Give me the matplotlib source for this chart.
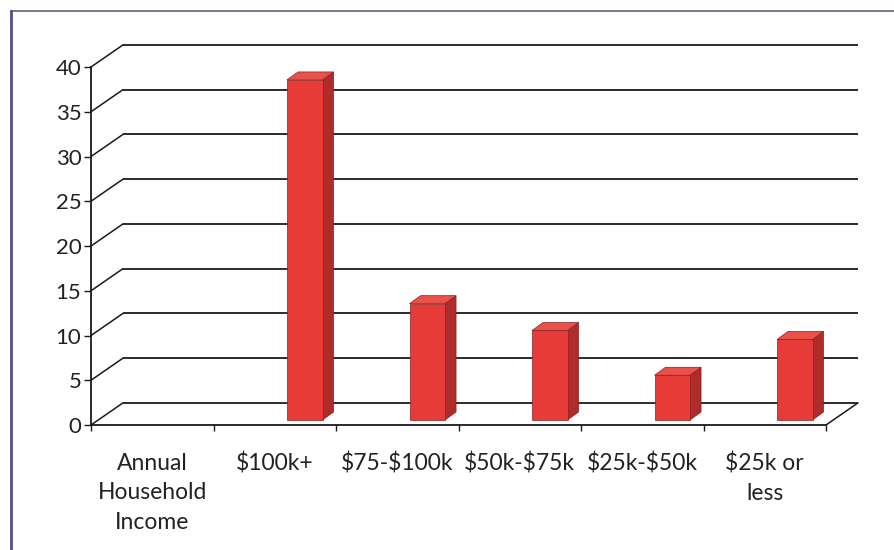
import matplotlib
matplotlib.use("Agg")
import matplotlib.pyplot as plt
from matplotlib.patches import Polygon
from matplotlib.lines import Line2D
import numpy as np

plt.rcParams['font.family'] = ['Lato', 'DejaVu Sans']
plt.rcParams['text.parse_math'] = False

# Survey shares by annual household income bracket (%)
categories = ["Annual\nHousehold\nIncome", "$100k+", "$75-$100k", "$50k-$75k",
              "$25k-$50k", "$25k or\nless"]
values = [np.nan, 38, 13, 10, 5, 9]
y_ticks = [0, 5, 10, 15, 20, 25, 30, 35, 40]

# pseudo-3D geometry (data units)
wall_dx, wall_dy = 0.26, 2.46      # depth of floor / back wall
bar_dx, bar_dy = 0.09, 0.89        # depth of each column
bar_base = 0.56                    # columns sit part-way into the floor
bar_left, bar_w = 0.60, 0.29       # column front face within its category slot

front_col = "#E63B36"
side_col = "#AE2C2A"
top_col = "#E9514B"
edge_col = "#8A2020"
grid_col = "#1a1a1a"

fig = plt.figure(figsize=(8.94, 5.5), dpi=100)
ax = fig.add_axes([0.03328, 0.17845, 0.95917, 0.7648])
ax.set_xlim(-0.5, 6.5)
ax.set_ylim(-3, 44)
n = len(categories)

# back wall gridlines and their diagonal links to the front axis
for v in y_ticks:
    ax.plot([wall_dx, n + wall_dx], [v + wall_dy, v + wall_dy],
            color=grid_col, lw=1.3, zorder=1, solid_capstyle='butt')
    ax.plot([0, wall_dx], [v, v + wall_dy], color=grid_col, lw=1.1, zorder=1)
# right edge of the floor
ax.plot([n, n + wall_dx], [0, wall_dy], color=grid_col, lw=1.1, zorder=1)

# columns
for i, val in enumerate(values):
    if np.isnan(val):
        continue
    x0 = i + bar_left
    x1 = x0 + bar_w
    y0 = bar_base
    y1 = bar_base + val
    front = [(x0, y0), (x1, y0), (x1, y1), (x0, y1)]
    side = [(x1, y0), (x1 + bar_dx, y0 + bar_dy), (x1 + bar_dx, y1 + bar_dy), (x1, y1)]
    top = [(x0, y1), (x1, y1), (x1 + bar_dx, y1 + bar_dy), (x0 + bar_dx, y1 + bar_dy)]
    for pts, col in ((side, side_col), (top, top_col), (front, front_col)):
        ax.add_patch(Polygon(pts, closed=True, facecolor=col, edgecolor=edge_col,
                             lw=0.5, zorder=3))

# front axes
for s in ("top", "right"):
    ax.spines[s].set_visible(False)
ax.spines["left"].set_position(("data", 0))
ax.spines["bottom"].set_position(("data", 0))
ax.spines["left"].set_bounds(0, 40)
ax.spines["bottom"].set_bounds(0, n)
for s in ("left", "bottom"):
    ax.spines[s].set_color(grid_col)
    ax.spines[s].set_linewidth(1.3)

ax.set_yticks(y_ticks)
ax.set_yticklabels([str(t) for t in y_ticks])
ax.tick_params(axis="y", direction="out", length=5, width=1, pad=2,
               labelsize=16, colors=grid_col, labelcolor="#222222")
ax.set_xticks(np.arange(0, n + 1))
ax.set_xticklabels([])
ax.tick_params(axis="x", direction="out", length=4, width=1, colors=grid_col)
ax.set_xticks(np.arange(n) + 0.5, minor=True)
ax.set_xticklabels(categories, minor=True, fontsize=16.5, color="#222222",
                   linespacing=1.5)
ax.tick_params(axis="x", which="minor", length=0, pad=20)

# chart frame
fig.add_artist(Line2D([11 / 894, 1.0], [1 - 11 / 550, 1 - 11 / 550],
                      color="#6d6d80", lw=1.3))
fig.add_artist(Line2D([11 / 894, 11 / 894], [0, 1 - 11 / 550],
                      color="#5a4c8c", lw=2.0))

fig.savefig("out.png", dpi=100, facecolor="white")
